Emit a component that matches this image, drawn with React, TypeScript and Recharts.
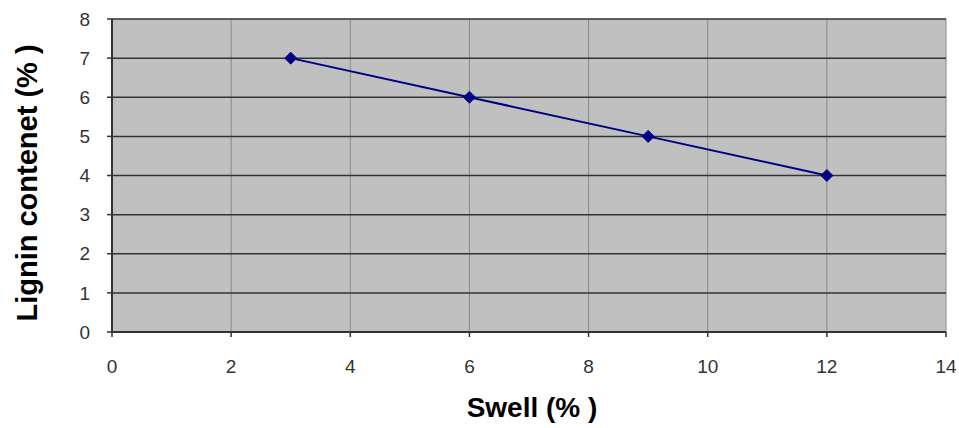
import { LineChart, Line, XAxis, YAxis, CartesianGrid, Label } from 'recharts'

const swell = [3, 6, 9, 12]
const lignin = [7, 6, 5, 4]
const xTicks = [0, 2, 4, 6, 8, 10, 12, 14]
const yTicks = [0, 1, 2, 3, 4, 5, 6, 7, 8]

const data = swell.map((s, i) => ({ swell: s, lignin: lignin[i] }))

const FONT = '"Liberation Sans", Arial, sans-serif'

function Diamond(props: any) {
  const { cx, cy } = props
  if (cx == null || cy == null) return null
  const r = 6
  return <path d={`M${cx},${cy - r}L${cx + r},${cy}L${cx},${cy + r}L${cx - r},${cy}Z`} fill="#000080" stroke="#000080" />
}

export default function App() {
  return (
    <div style={{ position: 'absolute', left: 0, top: 0, width: 959, height: 428, background: '#fff', fontFamily: FONT }}>
      <LineChart width={959} height={428} data={data} margin={{ top: 19, right: 13, left: 0, bottom: 0 }}>
        <CartesianGrid horizontal={false} stroke="#8a8a8a" fill="#C0C0C0" fillOpacity={1} />
        <CartesianGrid vertical={false} stroke="#333333" strokeWidth={1.5} />
        <XAxis dataKey="swell" type="number" domain={[0, 14]} ticks={xTicks} interval={0}
          height={96} tickSize={5} tickMargin={23}
          axisLine={{ stroke: '#333', strokeWidth: 2 }} tickLine={{ stroke: '#333', strokeWidth: 1.5 }}
          tick={{ fill: '#333', fontSize: 19, fontFamily: FONT }}>
          <Label content={({ viewBox }: any) => (
            <text x={viewBox.x + viewBox.width / 2 + 3} y={417} textAnchor="middle"
              fontSize={28} fontWeight="bold" fill="#000" fontFamily={FONT}>Swell (% )</text>
          )} />
        </XAxis>
        <YAxis dataKey="lignin" type="number" domain={[0, 8]} ticks={yTicks} interval={0}
          width={112} tickSize={5} tickMargin={17}
          axisLine={{ stroke: '#333', strokeWidth: 2 }} tickLine={{ stroke: '#333', strokeWidth: 1.5 }}
          tick={{ fill: '#333', fontSize: 19, fontFamily: FONT }}>
          <Label content={({ viewBox }: any) => {
            const cy = viewBox.y + viewBox.height / 2 + 7.5
            return (
              <text x={37} y={cy} transform={`rotate(-90, 37, ${cy})`} textAnchor="middle"
                fontSize={29} fontWeight="bold" fill="#000" fontFamily={FONT}>Lignin contenet (% )</text>
            )
          }} />
        </YAxis>
        <Line dataKey="lignin" stroke="#000080" strokeWidth={2} dot={<Diamond />} activeDot={false} isAnimationActive={false} />
      </LineChart>
    </div>
  )
}
